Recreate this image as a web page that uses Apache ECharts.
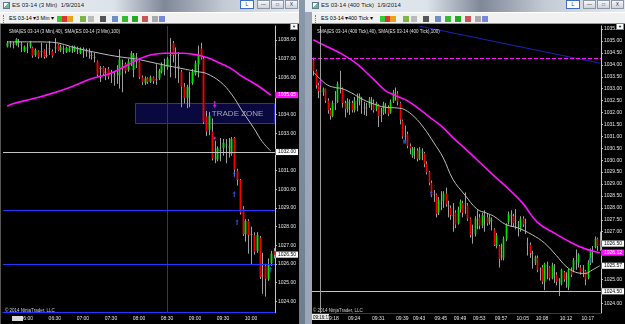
<!DOCTYPE html>
<html>
<head>
<meta charset="utf-8">
<title>ES 03-14 - 3 Min / 400 Tick</title>
<script src="https://cdn.jsdelivr.net/npm/echarts@6.0.0/dist/echarts.min.js"></script>
<style>
  html, body { margin: 0; padding: 0; }
  body { width: 625px; height: 324px; overflow: hidden; position: relative;
         background: linear-gradient(#8a98ab, #6f7d90); font-family: "Liberation Sans", Arial, sans-serif; }
  .win { position: absolute; top: 0; height: 324px; overflow: hidden; background: #9ba7b6; }
  .title { position: absolute; left: 0; right: 0; top: 0; height: 12px;
           background: linear-gradient(to right, #e7ecf2 0%, #dde3ea 38%, #7f8898 55%, #c4cbd5 75%, #e5eaf0 100%); }
  .title .ico { position: absolute; left: 3px; top: 2px; width: 7px; height: 7px; box-sizing: border-box;
                background: linear-gradient(135deg, #fff 40%, #6b9 41%); border: 1px solid #678; }
  .title .cap { position: absolute; left: 12px; top: 2px; font-size: 6px; color: #111; white-space: nowrap;
                text-shadow: 0 0 2px #fff; }
  .btns { position: absolute; right: 1px; top: 0; height: 9px; display: flex; }
  .btns span { display: block; width: 13px; height: 9px; margin-left: 1px; box-sizing: border-box;
               border: 1px solid #8b95a3; background: linear-gradient(#f6f8fa, #ccd3dc);
               font-size: 5px; line-height: 7px; text-align: center; color: #333; }
  .btns span.act { width: 14px; border-color: #3a6fc4; background: #fff; margin-right: 2px; }
  .tool { position: absolute; left: 0; right: 0; top: 12px; height: 12px; box-sizing: border-box;
          background: #f1f1f1; border-top: 1px solid #fff; border-bottom: 1px solid #9a9a9a; }
  .tool .tx { position: absolute; top: 2px; font-size: 5.5px; color: #000; white-space: nowrap; }
  .tool .ic { position: absolute; top: 3px; width: 6px; height: 6px; }
  .tool .grip { position: absolute; left: 3px; top: 2px; width: 1px; height: 8px; border-left: 1px dotted #777; }
  .chart { position: absolute; top: 24px; height: 300px; background: #000; }
  .dd { position: absolute; top: 23px; width: 8px; height: 7px; background: #fff; border: 1px solid #888;
        box-sizing: border-box; font-size: 4px; line-height: 6px; text-align: center; color: #000; z-index: 5; }
</style>
</head>
<body>

<div class="win" style="left:0;width:299px">
  <div class="title"><i class="ico"></i><span class="cap">ES 03-14 (3 Min)&nbsp; 1/9/2014</span>
    <div class="btns"><span class="act">L</span><span>&#8212;</span><span>&#9633;</span><span>X</span></div>
  </div>
  <div class="tool" id="tool1"><i class="grip"></i>
    <span class="tx" style="left:9px">ES 03-14 &#9662;</span>
    <span class="tx" style="left:36px">3 Min &#9662;</span>
  </div>
  <div class="chart" id="c1" style="left:0;width:299px;border-left:1px solid #555;box-sizing:border-box"></div>
  <div class="dd" style="left:290px">&#9660;</div>
</div>

<div class="win" style="left:305px;width:320px">
  <div class="title"><i class="ico" style="left:7px"></i><span class="cap" style="left:16px">ES 03-14 (400 Tick)&nbsp; 1/9/2014</span>
    <div class="btns"><span class="act">L</span><span>&#8212;</span><span>&#9633;</span><span>X</span></div>
  </div>
  <div class="tool" id="tool2" style="left:7px"><i class="grip"></i>
    <span class="tx" style="left:9px">ES 03-14 &#9662;</span>
    <span class="tx" style="left:36px">400 Tick &#9662;</span>
  </div>
  <div class="chart" id="c2" style="left:7px;width:313px"></div>
  <div class="dd" style="left:311px">&#9660;</div>
</div>

<script>
// ---- left chart: ES 03-14, 3 minute bars, [open, close, low, high]
const leftStartMinute = 336;
const leftTickTimes = ['06:00', '06:30', '07:00', '07:30', '08:00', '08:30', '09:00', '09:30', '10:00'];
const leftBars = [
  null,
  [1037.65, 1037.85, 1037.60, 1037.95], [1037.85, 1037.85, 1037.60, 1037.95], [1037.80, 1037.80, 1037.55, 1037.90],
  [1037.75, 1038.05, 1037.70, 1038.10], [1037.90, 1037.90, 1037.60, 1038.05], [1037.80, 1037.80, 1037.35, 1037.90],
  [1037.40, 1037.65, 1037.35, 1037.70], [1037.60, 1037.60, 1037.30, 1037.85], [1037.65, 1037.85, 1037.55, 1037.95],
  [1037.60, 1037.15, 1037.05, 1037.65], [1037.20, 1037.45, 1037.10, 1037.55], [1037.40, 1037.10, 1037.00, 1037.45],
  [1037.40, 1037.40, 1037.05, 1037.85], [1037.45, 1037.10, 1037.00, 1037.50], [1037.20, 1037.20, 1037.05, 1037.80],
  [1037.55, 1037.55, 1037.20, 1037.95], [1037.40, 1037.15, 1037.05, 1037.50], [1037.60, 1037.60, 1037.30, 1038.10],
  [1037.75, 1037.45, 1037.40, 1037.80], [1037.45, 1037.65, 1037.35, 1037.75], [1037.55, 1037.55, 1037.25, 1037.70],
  [1037.35, 1037.60, 1037.30, 1037.65], [1037.40, 1037.60, 1037.35, 1037.65], [1037.60, 1037.60, 1037.30, 1037.70],
  [1037.40, 1037.65, 1037.35, 1037.70], [1037.55, 1037.55, 1037.25, 1037.65], [1037.30, 1037.55, 1037.25, 1037.60],
  [1037.50, 1037.50, 1037.05, 1037.60], [1037.40, 1037.40, 1037.10, 1037.55], [1037.35, 1037.35, 1037.00, 1037.55],
  [1037.20, 1037.20, 1036.95, 1037.40], [1037.10, 1037.10, 1036.80, 1037.30], [1036.85, 1036.15, 1036.05, 1036.90],
  [1036.50, 1036.50, 1035.75, 1036.60], [1036.55, 1036.20, 1036.10, 1036.60], [1036.30, 1036.30, 1035.85, 1036.50],
  [1036.45, 1036.05, 1035.90, 1036.55], [1036.25, 1036.25, 1035.70, 1036.40], [1036.10, 1036.10, 1035.55, 1036.30],
  [1036.20, 1036.20, 1035.65, 1036.65], [1036.10, 1036.95, 1035.40, 1037.50], [1036.60, 1036.60, 1035.20, 1036.95],
  [1036.70, 1036.35, 1036.20, 1036.80], [1036.40, 1036.85, 1036.30, 1037.00], [1036.80, 1037.30, 1036.60, 1037.40],
  [1036.40, 1037.20, 1036.00, 1037.30], [1037.10, 1037.10, 1036.50, 1037.30], [1036.85, 1036.00, 1035.90, 1036.90],
  [1036.00, 1035.75, 1035.60, 1036.10], [1035.70, 1035.95, 1035.60, 1036.05], [1035.95, 1035.75, 1035.65, 1036.00],
  [1035.75, 1036.00, 1035.70, 1036.10], [1036.00, 1035.80, 1035.65, 1036.05], [1035.90, 1035.90, 1035.60, 1036.70],
  [1035.95, 1036.35, 1035.85, 1036.45], [1036.30, 1036.70, 1036.20, 1036.80], [1036.60, 1036.60, 1036.10, 1037.00],
  [1036.55, 1037.00, 1036.40, 1037.10], [1037.20, 1037.20, 1036.00, 1038.10], [1037.85, 1037.20, 1036.80, 1037.95],
  [1037.30, 1037.30, 1035.95, 1037.60], [1036.60, 1036.60, 1035.70, 1037.35], [1036.30, 1035.50, 1034.40, 1036.40],
  [1035.50, 1034.90, 1034.60, 1035.70], [1034.90, 1035.50, 1034.35, 1035.60], [1035.40, 1035.40, 1034.40, 1036.30],
  [1035.70, 1036.30, 1035.60, 1036.45], [1036.20, 1036.75, 1036.10, 1036.90], [1036.70, 1037.20, 1036.00, 1037.70],
  [1037.55, 1037.05, 1036.95, 1037.85], [1037.00, 1033.60, 1033.50, 1037.10], [1033.90, 1033.10, 1032.85, 1034.20],
  [1033.20, 1033.95, 1032.90, 1034.15], [1033.10, 1031.65, 1031.55, 1033.80], [1031.70, 1031.70, 1031.40, 1032.60],
  [1031.60, 1032.20, 1031.50, 1032.30], [1032.10, 1032.10, 1031.50, 1032.75], [1032.20, 1032.50, 1031.80, 1032.70],
  [1032.40, 1032.40, 1031.40, 1032.70], [1032.30, 1032.30, 1031.70, 1032.75], [1031.90, 1032.70, 1031.80, 1032.80],
  [1032.75, 1031.05, 1030.70, 1032.80], [1031.00, 1030.50, 1030.20, 1031.10], [1030.50, 1028.75, 1028.65, 1030.55],
  [1028.95, 1027.60, 1027.50, 1029.10], [1027.60, 1028.30, 1027.20, 1028.40], [1028.30, 1027.55, 1026.55, 1028.40],
  [1027.60, 1027.60, 1026.00, 1028.00], [1027.55, 1026.65, 1026.50, 1027.70], [1026.70, 1027.55, 1026.60, 1027.70],
  [1027.40, 1025.30, 1025.20, 1027.50], [1025.40, 1025.40, 1024.40, 1026.60], [1025.90, 1025.20, 1024.25, 1026.00],
  [1025.20, 1026.00, 1025.10, 1026.30], [1026.05, 1026.55, 1025.90, 1026.70], [1026.70, 1026.50, 1026.30, 1026.85]
];
// SMA(40) and SMA(100), read at [bar index, value]
const leftSma40 = [[1, 1037.9], [10, 1037.9], [17, 1037.88], [26, 1037.55], [34, 1037.29], [41, 1037.1], [47, 1036.98],
  [52, 1036.82], [57, 1036.66], [63, 1036.48], [69, 1036.3], [72, 1036.21], [77, 1035.76], [81, 1035.1],
  [85, 1034.16], [89, 1033.27], [92, 1032.55], [95, 1032.05]];
const leftSma100 = [[1, 1034.45], [3, 1034.58], [10, 1034.85], [17, 1035.14], [24, 1035.5], [31, 1035.92], [38, 1036.22],
  [44, 1036.66], [48, 1036.98], [52, 1037.2], [57, 1037.29], [64, 1037.29], [70, 1037.16], [73, 1037.02],
  [77, 1036.75], [81, 1036.45], [85, 1036.03], [90, 1035.59], [95, 1035.05]];
const leftGrayLevels = [1032.0];
const leftBlueLevels = [1028.88, 1026.0];
const leftTimeLines = ['08:30'];
const leftZone = [[47, 1034.6, 1033.55]];
const leftBlueArrows = [[82, 1030.8], [82, 1029.75], [83, 1028.25], [95, 1025.7]];
const leftPinkArrows = [[75, 1034.55]];
const leftPinkDots = [[75, 1032.75]];
const leftLabelValues = [1024, 1025, 1026, 1027, 1028, 1029, 1030, 1031, 1033, 1034, 1036, 1037, 1038];

// ---- right chart: ES 03-14, 400 tick bars
const rightTickIdx = [8, 17, 27, 37, 44, 53, 61, 69, 78, 87, 95, 105, 114];
const rightTickText = ['09:18', '09:24', '09:31', '09:39', '09:43', '09:45', '09:49', '09:53', '09:57', '10:05', '10:08', '10:12', '10:17'];
const rightBars = [
  [1034.20, 1033.75, 1033.55, 1034.30], [1033.75, 1033.15, 1033.00, 1033.80], [1033.15, 1032.90, 1032.60, 1033.25],
  [1032.90, 1032.90, 1032.55, 1033.10], [1032.85, 1033.00, 1032.70, 1033.05], [1033.00, 1032.50, 1032.40, 1033.00],
  [1032.50, 1032.10, 1031.95, 1032.60], [1032.10, 1031.85, 1031.70, 1032.20], [1031.85, 1032.40, 1031.80, 1032.50],
  [1032.40, 1032.40, 1032.10, 1032.90], [1032.45, 1033.20, 1032.40, 1033.30], [1033.10, 1033.10, 1032.80, 1033.75],
  [1033.00, 1032.40, 1032.20, 1033.05], [1032.40, 1032.15, 1031.80, 1032.50], [1032.15, 1032.45, 1032.00, 1032.60],
  [1032.45, 1032.45, 1031.90, 1032.55], [1032.40, 1032.10, 1032.00, 1032.50], [1032.10, 1032.50, 1032.00, 1032.65],
  [1032.50, 1032.50, 1032.05, 1032.80], [1032.50, 1032.70, 1032.30, 1032.80], [1032.60, 1032.60, 1031.95, 1032.65],
  [1032.25, 1032.25, 1031.90, 1032.45], [1032.20, 1032.20, 1031.85, 1032.40], [1032.30, 1032.55, 1032.20, 1032.65],
  [1032.50, 1032.50, 1032.10, 1032.65], [1032.40, 1032.10, 1032.00, 1032.55], [1032.15, 1032.40, 1032.05, 1032.45],
  [1032.30, 1031.85, 1031.40, 1032.35], [1031.90, 1031.90, 1031.60, 1032.20], [1032.00, 1032.35, 1031.90, 1032.45],
  [1032.30, 1032.30, 1031.95, 1032.40], [1032.20, 1031.95, 1031.85, 1032.30], [1032.00, 1032.45, 1031.95, 1032.55],
  [1032.45, 1032.85, 1032.40, 1032.95], [1032.80, 1032.80, 1032.50, 1033.05], [1032.80, 1032.45, 1032.30, 1032.90],
  [1032.40, 1031.70, 1031.50, 1032.45], [1031.65, 1031.00, 1030.90, 1031.70], [1031.00, 1031.00, 1030.80, 1031.45],
  [1031.10, 1030.60, 1030.50, 1031.20], [1030.60, 1030.50, 1030.25, 1030.70], [1030.20, 1030.50, 1030.10, 1030.55],
  [1030.45, 1030.45, 1030.05, 1030.55], [1030.40, 1030.05, 1029.95, 1030.50], [1030.05, 1030.45, 1030.00, 1030.55],
  [1030.40, 1030.40, 1030.00, 1030.50], [1030.30, 1029.85, 1029.70, 1030.35], [1029.85, 1029.50, 1029.40, 1029.95],
  [1029.50, 1029.05, 1028.95, 1029.55], [1029.05, 1028.55, 1028.45, 1029.15], [1028.60, 1028.60, 1028.25, 1028.75],
  [1028.55, 1027.75, 1027.60, 1028.60], [1027.80, 1028.35, 1027.70, 1028.45], [1028.35, 1028.35, 1027.90, 1028.70],
  [1028.30, 1028.60, 1028.00, 1028.70], [1028.60, 1028.15, 1028.05, 1028.85], [1028.10, 1028.10, 1027.60, 1028.30],
  [1028.00, 1027.70, 1027.50, 1028.10], [1027.70, 1027.70, 1027.00, 1028.20], [1027.80, 1027.30, 1027.15, 1027.90],
  [1027.35, 1027.95, 1027.30, 1028.05], [1027.95, 1028.25, 1027.80, 1028.35], [1028.20, 1027.80, 1027.60, 1028.30],
  [1028.20, 1028.20, 1027.75, 1028.65], [1028.10, 1027.55, 1027.45, 1028.20], [1027.55, 1026.85, 1026.75, 1027.60],
  [1026.85, 1026.85, 1026.50, 1027.30], [1026.90, 1027.55, 1026.80, 1027.65], [1027.50, 1027.50, 1027.10, 1027.90],
  [1027.60, 1027.25, 1027.10, 1027.75], [1027.25, 1027.70, 1027.15, 1027.80], [1027.65, 1027.65, 1027.00, 1027.90],
  [1027.60, 1027.35, 1027.25, 1027.75], [1027.40, 1027.60, 1027.30, 1027.70], [1027.50, 1027.50, 1027.05, 1027.60],
  [1027.10, 1026.45, 1026.40, 1027.15], [1026.40, 1026.85, 1026.30, 1026.95], [1026.40, 1025.85, 1025.50, 1026.45],
  [1026.00, 1026.00, 1025.80, 1026.50], [1025.90, 1026.70, 1025.80, 1026.80], [1026.70, 1027.30, 1026.60, 1027.35],
  [1027.40, 1027.75, 1027.30, 1027.85], [1027.70, 1027.70, 1027.20, 1027.90], [1027.65, 1027.35, 1027.20, 1027.75],
  [1027.50, 1027.50, 1027.10, 1027.95], [1027.30, 1027.30, 1026.80, 1027.45], [1027.10, 1027.55, 1027.00, 1027.65],
  [1027.55, 1027.30, 1027.20, 1027.65], [1027.40, 1027.40, 1026.90, 1027.55], [1026.50, 1026.50, 1026.00, 1026.75],
  [1026.45, 1026.10, 1025.90, 1026.55], [1026.10, 1026.10, 1025.45, 1026.20], [1025.70, 1025.95, 1025.60, 1026.00],
  [1025.90, 1025.40, 1025.30, 1026.00], [1025.40, 1025.40, 1024.95, 1025.50], [1025.50, 1024.90, 1024.80, 1025.60],
  [1024.90, 1025.65, 1024.55, 1025.70], [1025.60, 1025.60, 1025.00, 1025.75], [1025.50, 1025.05, 1024.95, 1025.55],
  [1025.05, 1025.60, 1025.00, 1025.70], [1025.55, 1025.55, 1024.85, 1025.65], [1025.20, 1024.90, 1024.75, 1025.30],
  [1024.95, 1024.95, 1024.30, 1025.05], [1024.80, 1025.40, 1024.75, 1025.45], [1025.30, 1025.00, 1024.90, 1025.35],
  [1025.10, 1025.10, 1024.65, 1025.30], [1024.70, 1025.40, 1024.55, 1025.45], [1025.40, 1025.20, 1025.10, 1025.50],
  [1025.40, 1025.80, 1025.30, 1025.90], [1025.80, 1025.80, 1025.40, 1026.25], [1025.70, 1026.05, 1025.50, 1026.10],
  [1025.50, 1025.30, 1025.20, 1025.60], [1025.40, 1025.40, 1025.10, 1025.60], [1025.35, 1025.00, 1024.75, 1025.40],
  [1025.05, 1025.70, 1025.00, 1025.80], [1025.70, 1026.25, 1025.60, 1026.30], [1026.20, 1026.20, 1025.70, 1026.40],
  [1026.35, 1026.70, 1026.30, 1026.80], [1026.70, 1026.40, 1026.20, 1026.75], [1026.50, 1026.50, 1026.20, 1027.00]
];
const rightSma40 = [[0, 1033.7], [3, 1033.4], [6, 1033.15], [9, 1033.05], [12, 1033.0], [16, 1032.82], [20, 1032.58],
  [24, 1032.4], [30, 1032.22], [35, 1032.19], [38, 1032.12], [42, 1031.82], [46, 1031.35], [50, 1030.75],
  [54, 1030.1], [58, 1029.2], [63, 1028.54], [68, 1027.95], [72, 1027.78], [75, 1027.65], [80, 1027.3],
  [85, 1027.16], [91, 1026.87], [96, 1026.53], [101, 1026.0], [105, 1025.55], [109, 1025.3], [113, 1025.25],
  [116, 1025.4], [119, 1025.57]];
const rightSma100 = [[0, 1035.05], [5, 1034.8], [12, 1034.45], [18, 1034.05], [25, 1033.4], [30, 1032.92], [34, 1032.72],
  [39, 1032.5], [44, 1032.15], [49, 1031.75], [53, 1031.45], [59, 1030.85], [63, 1030.5], [68, 1030.02],
  [74, 1029.45], [80, 1028.9], [87, 1028.2], [93, 1027.4], [100, 1026.95], [107, 1026.55], [113, 1026.28],
  [119, 1026.12]];
const rightTrendLine = [[44, 1035.63], [119, 1034.07]];
const rightPinkDashLevel = 1034.27;
const rightGrayLevels = [1024.5];
const rightBlueArrows = [[49, 1028.6], [115, 1025.8]];
const rightBlueSquares = [[38, 1030.78]];
const rightPinkArrows = [[3, 1033.25]];
const rightLabelValues = [1024, 1025, 1027, 1027.5, 1028, 1028.5, 1029, 1029.5, 1030, 1030.5, 1031, 1031.5,
  1032, 1032.5, 1033, 1033.5, 1034, 1034.5, 1035, 1035.5];

const UP = '#00e400';
const DOWN = '#f20000';
const FLAT = '#8c8c8c';
const WICK = '#a0a0a0';
const PINK = '#ff10ff';
const LEVEL_BLUE = '#2236ff';
const ARROW = 'path://M5,0 L10,5 L7,5 L7,12 L3,12 L3,5 L0,5 Z';

const renderCandle = (params, api) => {
  const i = api.value(0);
  const o = api.value(1), c = api.value(2);
  const pO = api.coord([i, o]);
  const pC = api.coord([i, c]);
  const pL = api.coord([i, api.value(3)]);
  const pH = api.coord([i, api.value(4)]);
  const w = Math.max(1, api.size([1, 0])[0] * 0.68);
  const x = Math.round(pO[0]) + 0.5;
  const fill = c > o ? UP : c < o ? DOWN : FLAT;
  return {
    type: 'group',
    children: [
      { type: 'line', shape: { x1: x, y1: pH[1], x2: x, y2: pL[1] }, style: { stroke: WICK, lineWidth: 1 } },
      {
        type: 'rect',
        shape: { x: x - w / 2, y: Math.min(pO[1], pC[1]), width: w, height: Math.max(1, Math.abs(pO[1] - pC[1])) },
        style: { fill: fill }
      }
    ]
  };
};

const candleSeries = (bars) => ({
  type: 'custom',
  renderItem: renderCandle,
  data: bars.map((b, i) => (b ? [i, b[0], b[1], b[2], b[3]] : null)).filter(Boolean),
  encode: { x: 0, y: [1, 2, 3, 4] },
  z: 3
});

// the shaded "TRADE ZONE": from a bar to the right edge, between two prices
const zoneSeries = (zone) => ({
  type: 'custom',
  silent: true,
  data: zone,
  encode: { x: 0, y: [1, 2] },
  z: 1,
  renderItem: (params, api) => {
    const pTop = api.coord([api.value(0), api.value(1)]);
    const pBot = api.coord([api.value(0), api.value(2)]);
    const cs = params.coordSys;
    const x0 = Math.round(pTop[0] - api.size([1, 0])[0] / 2) + 0.5;
    const x1 = cs.x + cs.width - 0.5;
    const y0 = Math.round(pTop[1]) + 0.5;
    const y1 = Math.round(pBot[1]) + 0.5;
    return {
      type: 'group',
      children: [
        { type: 'rect', shape: { x: x0, y: y0, width: x1 - x0, height: y1 - y0 },
          style: { fill: '#090940', stroke: '#2a2ad8', lineWidth: 1 } },
        { type: 'text', x: x1 - 11, y: (y0 + y1) / 2,
          style: { text: 'TRADE ZONE', fill: '#a2a2b8', fontSize: 8, fontFamily: 'Liberation Sans', align: 'right', verticalAlign: 'middle' } }
      ]
    };
  }
});

// full-height vertical line at a bar, kept on a whole pixel
const timeLineSeries = (times, color) => ({
  type: 'custom',
  silent: true,
  data: times.map((t) => [t]),
  encode: { x: 0 },
  z: 2,
  renderItem: (params, api) => {
    const cs = params.coordSys;
    const x = Math.round(api.coord([api.value(0), 1030])[0]) + 0.5;
    return { type: 'line', shape: { x1: x, y1: cs.y, x2: x, y2: cs.y + cs.height }, style: { stroke: color, lineWidth: 1 } };
  }
});

// value box drawn on the price axis
const box = (v, bg, fg) => ({
  show: true, position: 'end', distance: 1, formatter: v.toFixed(2),
  backgroundColor: bg, color: fg, borderColor: '#222', borderWidth: 0.5,
  padding: [1, 2, 0, 2], fontSize: 5, fontFamily: 'Liberation Sans'
});
const labelOnly = (v, bg, fg) => ({ yAxis: v, lineStyle: { color: 'transparent' }, label: box(v, bg, fg) });

const axisText = { fontSize: 5, color: '#e4e4e4', fontFamily: 'Liberation Sans' };

const smaLine = (data, color, width, extra) => Object.assign({
  type: 'line', data: data, smooth: 0.4, showSymbol: false, silent: true,
  lineStyle: { color: color, width: width }, z: 4
}, extra || {});

const markerSeries = (data, symbol, size, color, rotate) => ({
  type: 'scatter', data: data, symbol: symbol, symbolSize: size, symbolRotate: rotate || 0,
  itemStyle: { color: color }, silent: true, z: 6
});

const pad = (n) => String(n).padStart(2, '0');
const leftTimes = leftBars.map((_, i) => {
  const m = leftStartMinute + i * 3;
  return pad(Math.floor(m / 60)) + ':' + pad(m % 60);
});
const leftShow = (idx, val) => leftTickTimes.includes(val);

const last = (arr) => arr[arr.length - 1];
const lastClose = (bars) => last(bars)[1];

const leftOption = {
  animation: false,
  backgroundColor: '#000',
  title: {
    text: 'SMA(ES 03-14 (3 Min),40), SMA(ES 03-14 (3 Min),100)', left: 3, top: 0,
    textStyle: { fontSize: 4.5, color: '#e0e0e0', fontWeight: 'normal', fontFamily: 'Liberation Sans' }
  },
  grid: { left: 2, top: 2, width: 273, height: 286.7 },
  xAxis: {
    type: 'category', data: leftTimes, boundaryGap: true,
    axisLine: { lineStyle: { color: LEVEL_BLUE, width: 1 } },
    axisTick: { interval: leftShow, length: 2, lineStyle: { color: '#aaa' } },
    axisLabel: Object.assign({ interval: leftShow, margin: 3 }, axisText),
    splitLine: { show: false }
  },
  yAxis: {
    type: 'value', position: 'right', min: 1023.39, max: 1038.75,
    axisLine: { show: true, lineStyle: { color: '#c8c8c8' } },
    axisTick: { show: true, length: 2, customValues: leftLabelValues, lineStyle: { color: '#c8c8c8' } },
    axisLabel: Object.assign({ customValues: leftLabelValues, formatter: (v) => v.toFixed(2), margin: 3 }, axisText),
    splitLine: { show: false }
  },
  graphic: [
    { type: 'text', left: 4, top: 284, style: { text: '\u00a9 2014 NinjaTrader, LLC', fill: '#d0d0d0', fontSize: 4.5, fontFamily: 'Liberation Sans' } },
    { type: 'rect', left: 11, top: 292, shape: { width: 11, height: 5 }, style: { fill: '#d8d8d8' } }
  ],
  series: [
    zoneSeries(leftZone),
    timeLineSeries(leftTimeLines, '#1c2ad8'),
    candleSeries(leftBars),
    smaLine(leftSma40, '#bdbdbd', 1, {
      markLine: {
        silent: true, symbol: ['none', 'none'],
        data: [
          ...leftGrayLevels.map((v) => ({ yAxis: v, lineStyle: { color: '#c4c4c4', width: 1, type: 'solid' }, label: box(v, '#fff', '#000') })),
          ...leftBlueLevels.map((v) => ({ yAxis: v, lineStyle: { color: LEVEL_BLUE, width: 1, type: 'solid' }, label: { show: false } })),
          labelOnly(lastClose(leftBars), '#fff', '#000')
        ]
      }
    }),
    smaLine(leftSma100, PINK, 1.6, {
      markLine: { silent: true, symbol: ['none', 'none'], data: [labelOnly(last(leftSma100)[1], PINK, '#fff')] }
    }),
    markerSeries(leftBlueArrows, ARROW, [3, 6], '#2a5cff'),
    markerSeries(leftPinkArrows, ARROW, [4, 7], PINK, 180),
    markerSeries(leftPinkDots, 'circle', 2.5, PINK)
  ]
};

const rightCats = rightBars.map((_, i) => String(i));
const rightShow = (idx) => rightTickIdx.includes(idx);

const rightOption = {
  animation: false,
  backgroundColor: '#000',
  title: {
    text: 'SMA(ES 03-14 (400 Tick),40), SMA(ES 03-14 (400 Tick),100)', left: 0, top: 0,
    textStyle: { fontSize: 4.5, color: '#e0e0e0', fontWeight: 'normal', fontFamily: 'Liberation Sans' }
  },
  grid: { left: 0, top: 2, width: 289, height: 287 },
  xAxis: {
    type: 'category', data: rightCats, boundaryGap: true,
    axisLine: { lineStyle: { color: '#3a3a3a' } },
    axisTick: { interval: rightShow, length: 2, lineStyle: { color: '#aaa' } },
    axisLabel: Object.assign({
      interval: rightShow, margin: 3,
      formatter: (v, idx) => rightTickText[rightTickIdx.indexOf(idx)] || ''
    }, axisText),
    splitLine: { show: false }
  },
  yAxis: {
    type: 'value', position: 'right', min: 1023.59, max: 1035.63,
    axisLine: { show: true, lineStyle: { color: '#c8c8c8' } },
    axisTick: { show: true, length: 2, customValues: rightLabelValues, lineStyle: { color: '#c8c8c8' } },
    axisLabel: Object.assign({ customValues: rightLabelValues, formatter: (v) => v.toFixed(2), margin: 3 }, axisText),
    splitLine: { show: false }
  },
  graphic: [
    { type: 'text', left: 1, top: 284, style: { text: '\u00a9 2014 NinjaTrader, LLC', fill: '#d0d0d0', fontSize: 4.5, fontFamily: 'Liberation Sans' } },
    {
      type: 'group', left: 0, top: 290, children: [
        { type: 'rect', shape: { x: 0, y: 0, width: 17, height: 6 }, style: { fill: '#e8e8e8' } },
        { type: 'text', x: 1, y: 1, style: { text: '09:16:19', fill: '#000', fontSize: 4.5, fontFamily: 'Liberation Sans' } }
      ]
    }
  ],
  series: [
    candleSeries(rightBars),
    smaLine(rightSma40, '#bdbdbd', 1, {
      markLine: {
        silent: true, symbol: ['none', 'none'],
        data: [
          ...rightGrayLevels.map((v) => ({ yAxis: v, lineStyle: { color: '#c4c4c4', width: 1, type: 'solid' }, label: box(v, '#fff', '#000') })),
          { yAxis: rightPinkDashLevel, lineStyle: { color: PINK, width: 1, type: [4, 2] }, label: { show: false } },
          { xAxis: 3, lineStyle: { color: '#9a9a9a', width: 1, type: 'solid' }, label: { show: false } },
          labelOnly(last(rightSma40)[1], '#fff', '#000'),
          labelOnly(lastClose(rightBars), '#fff', '#000')
        ]
      }
    }),
    smaLine(rightSma100, PINK, 1.6, {
      markLine: { silent: true, symbol: ['none', 'none'], data: [labelOnly(last(rightSma100)[1], PINK, '#fff')] }
    }),
    { type: 'line', data: rightTrendLine, showSymbol: false, silent: true, lineStyle: { color: '#2020b8', width: 1 }, z: 2 },
    markerSeries(rightBlueArrows, ARROW, [3, 6], '#2a5cff'),
    markerSeries(rightBlueSquares, 'rect', [3, 4], '#2a5cff'),
    markerSeries(rightPinkArrows, ARROW, [3, 6], PINK)
  ]
};

// toolbar icons (chrome only)
const toolIcons = [
  [57, '#3c3'], [62, '#d33'], [67, '#e9a21c'], [80, '#7ab648'], [88, '#bbb'], [100, '#555'],
  [112, '#6d8fc6'], [122, '#3b3'], [132, '#2a2'], [142, '#c55'], [152, '#aaa'], [159, '#7a86d8']
];
['tool1', 'tool2'].forEach((id, k) => {
  const bar = document.getElementById(id);
  toolIcons.forEach(([x, col]) => {
    const s = document.createElement('i');
    s.className = 'ic';
    s.style.left = (x + (k ? 11 : 0)) + 'px';
    s.style.background = col;
    bar.appendChild(s);
  });
});

echarts.init(document.getElementById('c1'), null, { renderer: 'canvas' }).setOption(leftOption);
echarts.init(document.getElementById('c2'), null, { renderer: 'canvas' }).setOption(rightOption);
</script>
</body>
</html>
